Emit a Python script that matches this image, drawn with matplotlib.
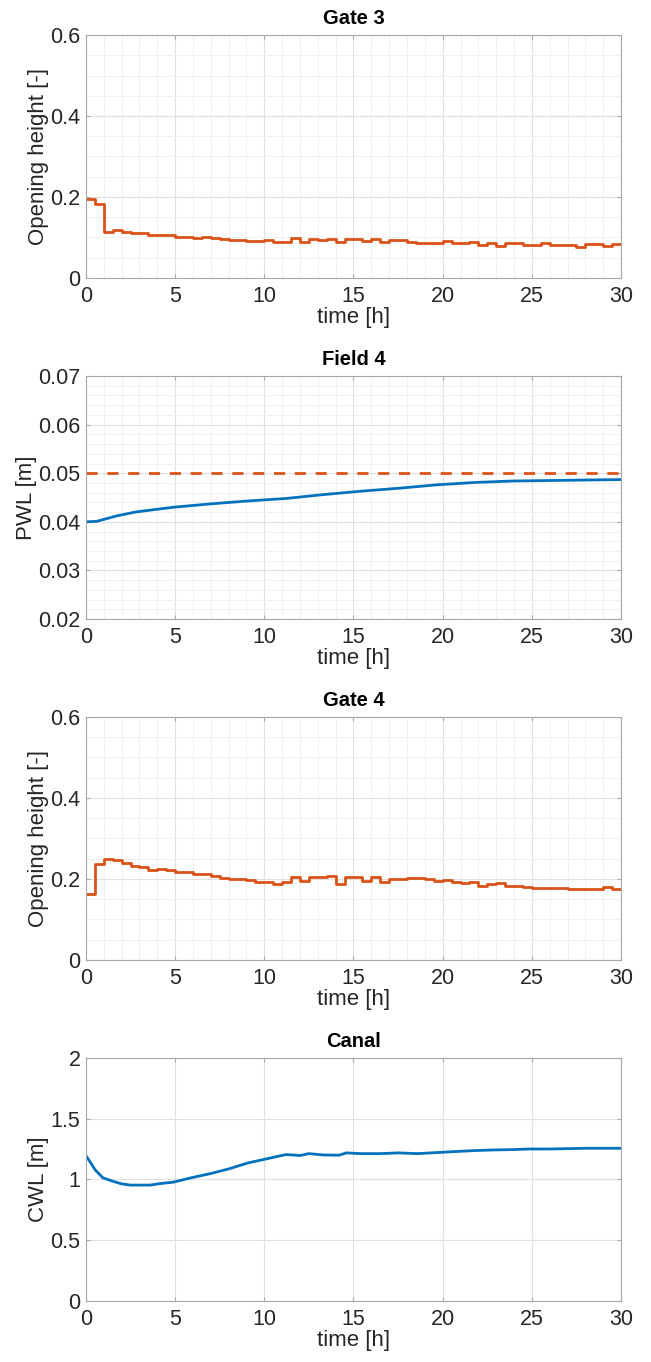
import numpy as np
import matplotlib
matplotlib.use('Agg')
import matplotlib.pyplot as plt
from matplotlib.ticker import MultipleLocator, FormatStrFormatter

plt.rcParams['font.family'] = ['Liberation Sans', 'DejaVu Sans']

ORANGE = '#D95319'
BLUE = '#0072BD'

# Gate 3: step start times [h] and opening heights [-]
gate3_t = [0, 0.5, 1.0, 1.5, 2.0, 2.5, 3.5, 4.0, 5.0, 6.0, 6.5, 7.0, 7.5, 8.0, 8.5, 9.0,
           10.0, 10.5, 11.5, 12.0, 12.5, 13.0, 13.5, 14.0, 14.5, 15.5, 16.0, 16.5, 17.0,
           17.5, 18.0, 18.5, 19.5, 20.0, 20.5, 21.5, 22.0, 22.5, 23.0, 23.5, 24.5, 25.5,
           26.0, 27.0, 27.5, 28.0, 29.0, 29.5]
gate3_h = [0.195, 0.183, 0.114, 0.118, 0.113, 0.110, 0.105, 0.107, 0.102, 0.099, 0.100,
           0.098, 0.097, 0.094, 0.095, 0.092, 0.093, 0.090, 0.099, 0.090, 0.097, 0.095,
           0.097, 0.090, 0.096, 0.091, 0.097, 0.090, 0.093, 0.095, 0.090, 0.086, 0.087,
           0.091, 0.086, 0.090, 0.082, 0.086, 0.078, 0.086, 0.082, 0.087, 0.081, 0.082,
           0.076, 0.084, 0.080, 0.083]

# Field 4: ponded water level [m] and its target
field4_t = [0, 0.6, 1.7, 2.75, 3.8, 4.9, 7.0, 9.1, 11.2, 13.3, 15.4, 17.5, 19.6, 21.8,
            23.9, 26.0, 30.0]
field4_pwl = [0.0400, 0.0401, 0.0412, 0.0420, 0.0425, 0.0430, 0.0437, 0.0443, 0.0448,
              0.0456, 0.0463, 0.0469, 0.0476, 0.0481, 0.0484, 0.0485, 0.0487]
field4_target = 0.05

# Gate 4
gate4_t = [0, 0.5, 1.0, 1.5, 2.0, 2.5, 3.0, 3.5, 4.0, 4.5, 5.0, 6.0, 6.5, 7.0, 7.5, 8.0,
           9.0, 9.5, 10.5, 11.0, 11.5, 12.0, 12.5, 13.5, 14.0, 14.5, 15.5, 16.0, 16.5,
           17.0, 18.0, 19.0, 19.5, 20.0, 20.5, 21.0, 21.5, 22.0, 22.5, 23.0, 23.5, 24.5,
           25.0, 27.0, 29.0, 29.5]
gate4_h = [0.164, 0.236, 0.249, 0.248, 0.239, 0.233, 0.230, 0.221, 0.224, 0.223, 0.216,
           0.212, 0.213, 0.208, 0.203, 0.199, 0.198, 0.193, 0.187, 0.193, 0.204, 0.195,
           0.204, 0.208, 0.188, 0.204, 0.196, 0.204, 0.193, 0.200, 0.203, 0.199, 0.196,
           0.197, 0.193, 0.189, 0.193, 0.183, 0.187, 0.190, 0.183, 0.181, 0.178, 0.175,
           0.181, 0.174]

# Canal water level [m]
canal_t = [0, 0.53, 0.95, 1.5, 2.0, 2.5, 3.6, 4.2, 4.9, 5.9, 7.0, 8.0, 9.1, 10.1, 11.2,
           11.6, 12.0, 12.5, 13.3, 14.2, 14.6, 15.4, 16.5, 17.5, 18.6, 19.6, 20.7, 21.8,
           22.8, 23.9, 24.9, 26.0, 27.0, 28.1, 30.0]
canal_cwl = [1.197, 1.077, 1.014, 0.986, 0.964, 0.954, 0.954, 0.967, 0.978, 1.014, 1.049,
             1.087, 1.137, 1.169, 1.205, 1.202, 1.197, 1.213, 1.202, 1.200, 1.219, 1.213,
             1.213, 1.219, 1.213, 1.221, 1.230, 1.238, 1.243, 1.246, 1.251, 1.251, 1.254,
             1.257, 1.257]

T_END = 30


def style_axes(ax, title, ylabel, ylim, ymajor, yminor=None):
    ax.set_xlim(0, T_END)
    ax.set_ylim(*ylim)
    ax.set_title(title, fontsize=14.5, fontweight='bold', color='black', pad=8)
    ax.set_xlabel('time [h]', fontsize=16, color='#262626', labelpad=0)
    ax.set_ylabel(ylabel, fontsize=16, color='#262626', labelpad=1)
    ax.xaxis.set_major_locator(MultipleLocator(5))
    ax.yaxis.set_major_locator(MultipleLocator(ymajor))
    ax.yaxis.set_major_formatter(FormatStrFormatter('%g'))
    ax.grid(True, which='major', color='#e0e0e0', linewidth=0.8)
    if yminor is not None:
        ax.xaxis.set_minor_locator(MultipleLocator(1))
        ax.yaxis.set_minor_locator(MultipleLocator(yminor))
        ax.grid(True, which='minor', color='#f0f0f0', linewidth=0.7)
    ax.set_axisbelow(True)
    ax.tick_params(which='both', direction='in', top=True, right=True,
                   labelsize=15.5, colors='#a8a8a8', labelcolor='#262626')
    ax.tick_params(axis='x', which='major', pad=6)
    ax.tick_params(axis='y', which='major', pad=4)
    ax.tick_params(which='major', length=3)
    ax.tick_params(which='minor', length=0)
    for s in ax.spines.values():
        s.set_color('#a8a8a8')
        s.set_linewidth(0.8)


def step_line(ax, t, h):
    edges = list(t) + [T_END]
    vals = list(h) + [h[-1]]
    ax.step(edges, vals, where='post', color=ORANGE, linewidth=2)


fig = plt.figure(figsize=(6.51, 13.62), dpi=100)
left, width, height = 0.132, 0.822, 0.1784
bottoms = [0.7959, 0.5455, 0.2952, 0.0448]
axes = [fig.add_axes([left, b, width, height]) for b in bottoms]

ax = axes[0]
step_line(ax, gate3_t, gate3_h)
style_axes(ax, 'Gate 3', 'Opening height [-]', (0, 0.6), 0.2, 0.05)

ax = axes[1]
ax.axhline(field4_target, color=ORANGE, linewidth=2, linestyle=(0, (4, 3.5)))
ax.plot(field4_t, field4_pwl, color=BLUE, linewidth=2)
style_axes(ax, 'Field 4', 'PWL [m]', (0.02, 0.07), 0.01, 0.002)

ax = axes[2]
step_line(ax, gate4_t, gate4_h)
style_axes(ax, 'Gate 4', 'Opening height [-]', (0, 0.6), 0.2, 0.05)

ax = axes[3]
ax.plot(canal_t, canal_cwl, color=BLUE, linewidth=2)
style_axes(ax, 'Canal', 'CWL [m]', (0, 2), 0.5)

fig.savefig('out.png', dpi=100)
